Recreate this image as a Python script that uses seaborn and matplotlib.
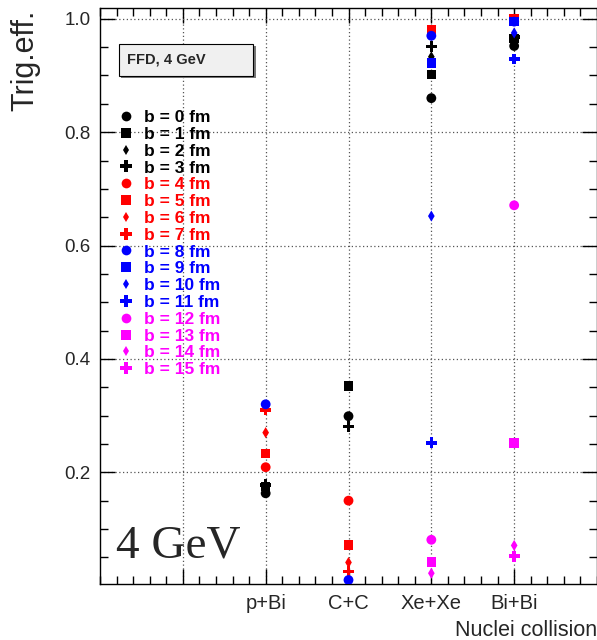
import numpy as np
import pandas as pd
import matplotlib
matplotlib.use("Agg")
import matplotlib.pyplot as plt
from matplotlib.lines import Line2D
from matplotlib.patches import Rectangle
from matplotlib.ticker import MultipleLocator, FixedLocator
import seaborn as sns

# ---------------- data ----------------
collisions = ["p+Bi", "C+C", "Xe+Xe", "Bi+Bi"]
nan = np.nan
b0 = [0.163, 0.299, 0.860, 0.952]
b1 = [0.175, 0.352, 0.902, 0.965]
b2 = [0.170, nan, 0.933, 0.960]
b3 = [0.178, 0.281, 0.951, 0.968]
b4 = [0.209, 0.150, nan, nan]
b5 = [0.233, 0.072, 0.981, 1.000]
b6 = [0.270, 0.041, nan, nan]
b7 = [0.310, 0.025, nan, nan]
b8 = [0.320, 0.010, 0.970, 0.995]
b9 = [nan, nan, 0.922, 0.995]
b10 = [nan, nan, 0.652, 0.975]
b11 = [nan, nan, 0.252, 0.929]
b12 = [nan, nan, 0.081, 0.671]
b13 = [nan, nan, 0.042, 0.252]
b14 = [nan, nan, 0.022, 0.071]
b15 = [nan, nan, nan, 0.052]
series = [b0, b1, b2, b3, b4, b5, b6, b7, b8, b9, b10, b11, b12, b13, b14, b15]
b_values = list(range(16))
series_labels = [f"b = {b} fm" for b in b_values]

colors = ["black"] * 4 + ["#ff0000"] * 4 + ["#0000ff"] * 4 + ["#ff00ff"] * 4
markers = ["o", "s", "d", "P"] * 4
sizes = {"o": 50, "s": 48, "d": 32, "P": 62}

rows = []
for b, vals in zip(b_values, series):
    for i, (c, v) in enumerate(zip(collisions, vals)):
        rows.append({"collision": c, "pos": i + 1, "b": b, "eff": v})
df = pd.DataFrame(rows)

# ---------------- figure ----------------
sns.set_style("ticks")
plt.rcParams["font.family"] = ["Liberation Sans", "DejaVu Sans"]

fig = plt.figure(figsize=(5.97, 6.40), dpi=100)
W, H = 597, 640
ax = fig.add_axes([100 / W, 1 - 584 / H, 497 / W, 576 / H])

for b, col, mk in zip(b_values, colors, markers):
    sub = df[(df["b"] == b) & df["eff"].notna()]
    sns.scatterplot(data=sub, x="pos", y="eff", ax=ax, color=col, marker=mk,
                    s=sizes[mk], linewidth=0, edgecolor="none", legend=False,
                    zorder=3)

ax.set_xlim(-1, 5)
ax.set_ylim(0.003, 1.019)
ax.xaxis.set_major_locator(FixedLocator([0, 1, 2, 3, 4]))
ax.set_xticklabels([""] + collisions)
ax.xaxis.set_minor_locator(MultipleLocator(0.2))
ax.yaxis.set_major_locator(FixedLocator([0.2, 0.4, 0.6, 0.8, 1.0]))
ax.set_yticklabels(["0.2", "0.4", "0.6", "0.8", "1.0"])
ax.yaxis.set_minor_locator(MultipleLocator(0.05))

ax.tick_params(which="both", direction="in", top=True, right=True,
               color="black", width=1)
ax.tick_params(axis="x", labelsize=14.5)
ax.tick_params(axis="y", labelsize=13.5)
ax.tick_params(which="major", length=11, pad=7)
ax.tick_params(which="minor", length=5.5)
for sp in ax.spines.values():
    sp.set_linewidth(1.0)
    sp.set_color("black")

ax.grid(which="major", linestyle=(0, (1, 2)), color="#555555", linewidth=0.9)
ax.set_axisbelow(True)

ax.set_xlabel("Nuclei collision", fontsize=15.5, loc="right")
ax.xaxis.set_label_coords(1.0, -0.062)
ax.set_ylabel("Trig.eff.", fontsize=22, loc="top")
ax.yaxis.set_label_coords(-0.120, 0.998)

# legend
handles = [Line2D([0], [0], linestyle="none", marker=mk, color=col,
                  markersize={"o": 7, "s": 7, "d": 5.5, "P": 8}[mk],
                  markeredgewidth=0)
           for col, mk in zip(colors, markers)]
leg = ax.legend(handles, series_labels, loc="upper left",
                bbox_to_anchor=(117 / W, 1 - 110 / H),
                bbox_transform=fig.transFigure, frameon=False,
                prop={"weight": "bold", "size": 12.5}, borderpad=0,
                handlelength=1.0, handletextpad=0.55, labelspacing=0.095,
                borderaxespad=0)
for t, col in zip(leg.get_texts(), colors):
    t.set_color(col)

# info box with shadow
fig.patches.append(Rectangle((121 / W, 1 - 78 / H), 135 / W, 32 / H,
                             transform=fig.transFigure, facecolor="#777777",
                             edgecolor="none", zorder=5))
fig.patches.append(Rectangle((119 / W, 1 - 76 / H), 134 / W, 32 / H,
                             transform=fig.transFigure, facecolor="#f0f0f0",
                             edgecolor="black", linewidth=0.8, zorder=6))
fig.text(127 / W, 1 - 60 / H, "FFD, 4 GeV", fontsize=10.5, fontweight="bold",
         va="center", ha="left", zorder=7)

ax.text(116 / W, 1 - 557 / H, "4 GeV", transform=fig.transFigure,
        fontsize=34, family=["Liberation Serif", "DejaVu Serif"],
        va="baseline", ha="left")

fig.savefig("out.png", dpi=100)
